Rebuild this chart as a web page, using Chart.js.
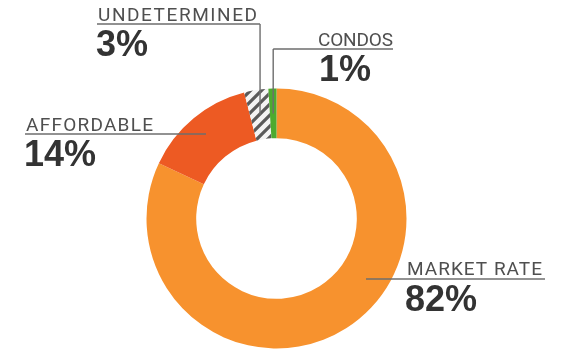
<!DOCTYPE html>
<html>
<head>
<meta charset="utf-8">
<script src="https://cdn.jsdelivr.net/npm/chart.js@4.4.0/dist/chart.umd.min.js"></script>
<style>
  html, body { margin: 0; padding: 0; background: #ffffff; }
  #wrap { width: 561px; height: 353px; position: relative; }
</style>
</head>
<body>
<div id="wrap"><canvas id="c"></canvas></div>
<script>
// Housing mix, in percent, clockwise from 12 o'clock
const categories = ['MARKET RATE', 'AFFORDABLE', 'UNDETERMINED', 'CONDOS'];
const shares = [82, 14, 3, 1];

// Diagonal stripes for the undetermined slice
function stripePattern() {
  const s = 11;
  const p = document.createElement('canvas');
  p.width = s; p.height = s;
  const g = p.getContext('2d');
  g.fillStyle = '#f4f4f4';
  g.fillRect(0, 0, s, s);
  g.strokeStyle = '#5a5a5a';
  g.lineWidth = 3.2;
  g.beginPath();
  g.moveTo(-2, s + 2); g.lineTo(s + 2, -2);
  g.moveTo(-2, 2); g.lineTo(2, -2);
  g.moveTo(s - 2, s + 2); g.lineTo(s + 2, s - 2);
  g.stroke();
  return g.createPattern(p, 'repeat');
}

const ctx0 = document.getElementById('c').getContext('2d');
const sliceColors = ['#f7922e', '#ed5a23', stripePattern(), '#4daa2f'];

// Where each caption sits; lead 'v' drops a line to the slice centre,
// lead 'h' runs the underline into the ring
const captionLayout = [
  { x: 407, base: 275, width: 135, lineY: 279, lineFrom: 366, lineTo: 545, pctX: 405, pctBase: 311, lead: 'h' },
  { x: 26,  base: 131, width: 127, lineY: 134, lineFrom: 25,  lineTo: 206, pctX: 24,  pctBase: 166, lead: 'h' },
  { x: 98,  base: 21,  width: 159, lineY: 24,  lineFrom: 97,  lineTo: null, pctX: 96, pctBase: 56,  lead: 'v' },
  { x: 318, base: 46,  width: 75,  lineY: 49,  lineFrom: null, lineTo: 393, pctX: 319, pctBase: 81, lead: 'v' }
];

const captions = {
  id: 'captions',
  afterDatasetsDraw(chart) {
    const ctx = chart.ctx;
    const arcs = chart.getDatasetMeta(0).data;
    ctx.save();
    ctx.strokeStyle = '#6e6e6e';
    ctx.lineWidth = 1.4;
    captionLayout.forEach((L, i) => {
      const mid = arcs[i].getCenterPoint();
      ctx.beginPath();
      if (L.lead === 'v') {
        const from = L.lineFrom !== null ? L.lineFrom : mid.x;
        const to = L.lineTo !== null ? L.lineTo : mid.x;
        ctx.moveTo(from, L.lineY);
        ctx.lineTo(to, L.lineY);
        ctx.moveTo(mid.x, L.lineY);
        ctx.lineTo(mid.x, mid.y);
      } else {
        ctx.moveTo(L.lineFrom, L.lineY);
        ctx.lineTo(L.lineTo, L.lineY);
      }
      ctx.stroke();

      // category name, spaced out to its set width
      const name = categories[i];
      ctx.font = '400 19px "Roboto"';
      ctx.letterSpacing = '0px';
      const w = ctx.measureText(name).width;
      const ls = (L.width - w) / (name.length - 1);
      ctx.letterSpacing = ls.toFixed(2) + 'px';
      ctx.fillStyle = '#4f4f4f';
      ctx.textBaseline = 'alphabetic';
      ctx.textAlign = 'left';
      ctx.fillText(name, L.x, L.base);

      // share
      ctx.letterSpacing = '0px';
      ctx.font = 'bold 36px "Liberation Sans"';
      ctx.fillStyle = '#333333';
      ctx.fillText(shares[i] + '%', L.pctX, L.pctBase);
    });
    ctx.restore();
  }
};

new Chart(ctx0, {
  type: 'doughnut',
  data: {
    labels: categories,
    datasets: [{
      data: shares,
      backgroundColor: sliceColors,
      borderWidth: 0,
      hoverOffset: 0
    }]
  },
  options: {
    responsive: true,
    maintainAspectRatio: false,
    animation: false,
    events: [],
    radius: 130,
    cutout: 80,
    rotation: 0,
    layout: { padding: { top: 89, bottom: 5, left: 147, right: 155 } },
    plugins: {
      legend: { display: false },
      tooltip: { enabled: false }
    }
  },
  plugins: [captions]
});
</script>
</body>
</html>
